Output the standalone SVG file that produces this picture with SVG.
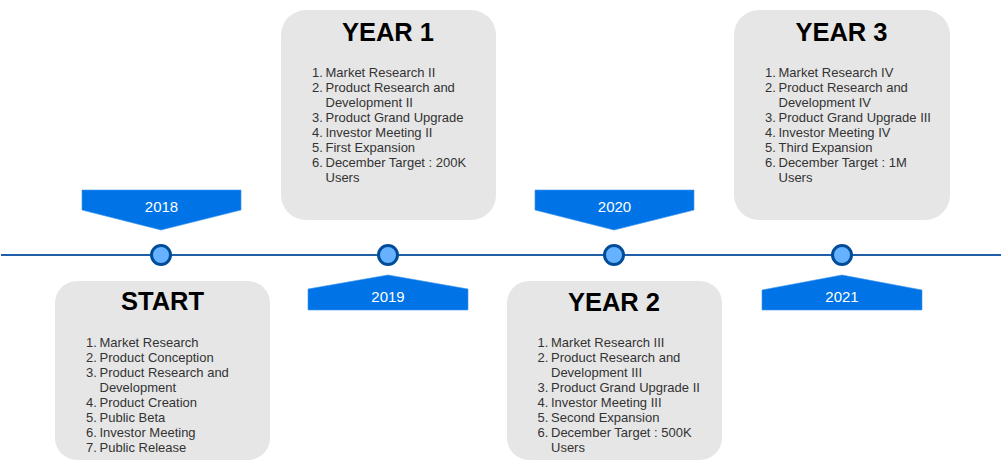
<svg xmlns="http://www.w3.org/2000/svg" width="1003" height="462" viewBox="0 0 1003 462">
  <style>
    .card { fill: #e6e6e6; stroke: none; }
    .title { font-family: "Liberation Sans", Arial, sans-serif; font-size: 25.5px; font-weight: bold; fill: #000000; text-anchor: middle; }
    .item { font-family: "Liberation Sans", Arial, sans-serif; font-size: 13px; fill: #333333; }
    .flag { fill: #0073e6; stroke: #3d94ee; stroke-width: 0.6; }
    .year { font-family: "Liberation Sans", Arial, sans-serif; font-size: 15px; fill: #ffffff; text-anchor: middle; }
    .dot { fill: #66b2ff; stroke: #004c99; stroke-width: 3; }
    .axis { stroke: #1f5fa8; stroke-width: 2; fill: none; }
  </style>

  <!-- timeline axis -->
  <g id="connectors">
    <line class="axis" x1="1" y1="255" x2="1001" y2="255"/>
  </g>

  <!-- year flags -->
  <g id="flag-2018">
    <polygon class="flag" points="82,190 241,190 241,210 161,230 82,210"/>
    <text class="year" x="161.5" y="212">2018</text>
  </g>
  <g id="flag-2019">
    <polygon class="flag" points="308,289 388,275 468,289 468,310 308,310"/>
    <text class="year" x="388" y="302">2019</text>
  </g>
  <g id="flag-2020">
    <polygon class="flag" points="535,190 694,190 694,210 614,230 535,210"/>
    <text class="year" x="614.5" y="212">2020</text>
  </g>
  <g id="flag-2021">
    <polygon class="flag" points="762,290 842,275 922,290 922,310 762,310"/>
    <text class="year" x="842" y="302">2021</text>
  </g>

  <!-- milestone dots -->
  <g id="dot-2018"><circle class="dot" cx="161" cy="255" r="9.5"/></g>
  <g id="dot-2019"><circle class="dot" cx="388" cy="255" r="9.5"/></g>
  <g id="dot-2020"><circle class="dot" cx="614" cy="255" r="9.5"/></g>
  <g id="dot-2021"><circle class="dot" cx="842" cy="255" r="9.5"/></g>

  <!-- START card -->
  <g id="card-start">
    <rect class="card" x="55" y="281" width="215" height="179" rx="22"/>
    <text class="title" x="162.5" y="310">START</text>
    <g class="item">
      <text x="86" y="347">1.</text><text x="99.5" y="347">Market Research</text>
      <text x="86" y="362">2.</text><text x="99.5" y="362">Product Conception</text>
      <text x="86" y="377">3.</text><text x="99.5" y="377">Product Research and</text>
      <text x="99.5" y="392">Development</text>
      <text x="86" y="407">4.</text><text x="99.5" y="407">Product Creation</text>
      <text x="86" y="422">5.</text><text x="99.5" y="422">Public Beta</text>
      <text x="86" y="437">6.</text><text x="99.5" y="437">Investor Meeting</text>
      <text x="86" y="452">7.</text><text x="99.5" y="452">Public Release</text>
    </g>
  </g>

  <!-- YEAR 1 card -->
  <g id="card-year1">
    <rect class="card" x="281" y="10" width="215" height="210" rx="25"/>
    <text class="title" x="388" y="41">YEAR 1</text>
    <g class="item">
      <text x="312" y="77">1.</text><text x="325.5" y="77">Market Research II</text>
      <text x="312" y="92">2.</text><text x="325.5" y="92">Product Research and</text>
      <text x="325.5" y="107">Development II</text>
      <text x="312" y="122">3.</text><text x="325.5" y="122">Product Grand Upgrade</text>
      <text x="312" y="137">4.</text><text x="325.5" y="137">Investor Meeting II</text>
      <text x="312" y="152">5.</text><text x="325.5" y="152">First Expansion</text>
      <text x="312" y="167">6.</text><text x="325.5" y="167">December Target : 200K</text>
      <text x="325.5" y="182">Users</text>
    </g>
  </g>

  <!-- YEAR 2 card -->
  <g id="card-year2">
    <rect class="card" x="507" y="281" width="215" height="179" rx="22"/>
    <text class="title" x="614" y="311">YEAR 2</text>
    <g class="item">
      <text x="537.5" y="347">1.</text><text x="551" y="347">Market Research III</text>
      <text x="537.5" y="362">2.</text><text x="551" y="362">Product Research and</text>
      <text x="551" y="377">Development III</text>
      <text x="537.5" y="392">3.</text><text x="551" y="392">Product Grand Upgrade II</text>
      <text x="537.5" y="407">4.</text><text x="551" y="407">Investor Meeting III</text>
      <text x="537.5" y="422">5.</text><text x="551" y="422">Second Expansion</text>
      <text x="537.5" y="437">6.</text><text x="551" y="437">December Target : 500K</text>
      <text x="551" y="452">Users</text>
    </g>
  </g>

  <!-- YEAR 3 card -->
  <g id="card-year3">
    <rect class="card" x="734" y="10" width="216" height="210" rx="25"/>
    <text class="title" x="841.5" y="41">YEAR 3</text>
    <g class="item">
      <text x="765" y="77">1.</text><text x="778.5" y="77">Market Research IV</text>
      <text x="765" y="92">2.</text><text x="778.5" y="92">Product Research and</text>
      <text x="778.5" y="107">Development IV</text>
      <text x="765" y="122">3.</text><text x="778.5" y="122">Product Grand Upgrade III</text>
      <text x="765" y="137">4.</text><text x="778.5" y="137">Investor Meeting IV</text>
      <text x="765" y="152">5.</text><text x="778.5" y="152">Third Expansion</text>
      <text x="765" y="167">6.</text><text x="778.5" y="167">December Target : 1M</text>
      <text x="778.5" y="182">Users</text>
    </g>
  </g>
</svg>
